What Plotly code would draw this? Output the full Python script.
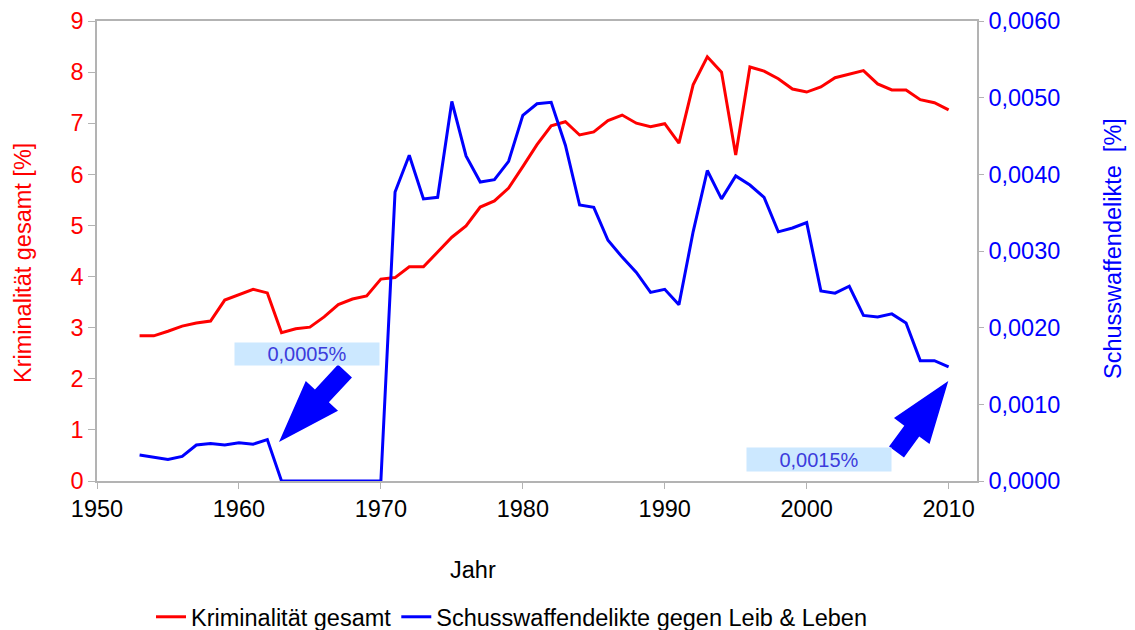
import math
import plotly.graph_objects as go

years = list(range(1953, 2011))
kriminalitaet = [2.84, 2.84, 2.93, 3.03, 3.09, 3.13, 3.54, 3.64, 3.75, 3.68,
                 2.90, 2.98, 3.01, 3.21, 3.45, 3.56, 3.62, 3.95, 3.98, 4.19,
                 4.19, 4.48, 4.77, 4.99, 5.36, 5.48, 5.73, 6.15, 6.58, 6.95,
                 7.03, 6.77, 6.83, 7.05, 7.16, 7.00, 6.93, 6.99, 6.61, 7.75,
                 8.30, 8.00, 6.38, 8.10, 8.02, 7.87, 7.67, 7.61, 7.71, 7.89,
                 7.96, 8.03, 7.77, 7.65, 7.65, 7.46, 7.40, 7.26]
schusswaffen = [0.00034, 0.00031, 0.00028, 0.00032, 0.00047, 0.00049, 0.00047, 0.00050, 0.00048, 0.00054,
                0.0, 0.0, 0.0, 0.0, 0.0, 0.0, 0.0, 0.0,
                0.00377, 0.00425, 0.00368, 0.00370, 0.00495, 0.00424, 0.00390, 0.00393, 0.00417, 0.00477,
                0.00492, 0.00494, 0.00438, 0.00360, 0.00357, 0.00314, 0.00292, 0.00272, 0.00246, 0.00250,
                0.00230, 0.00325, 0.00405, 0.00368, 0.00398, 0.00386, 0.00370, 0.00325, 0.00330, 0.00337,
                0.00248, 0.00245, 0.00254, 0.00216, 0.00214, 0.00218, 0.00206, 0.00157, 0.00157, 0.00149]

callout_texts = ["0,0005%", "0,0015%"]

W, H = 1135, 630
L, R, T, B = 97, 977, 21, 481
XMIN, XMAX = 1950, 2012
YMAX = 9


def to_data(px, py):
    return (XMIN + (px - L) / (R - L) * (XMAX - XMIN), (B - py) / (B - T) * YMAX)


def arrow_path(tail, tip, shaft_w, head_w, head_len):
    dx, dy = tip[0] - tail[0], tip[1] - tail[1]
    n = math.hypot(dx, dy)
    ux, uy = dx / n, dy / n
    px_, py_ = -uy, ux
    bx, by = tip[0] - ux * head_len, tip[1] - uy * head_len
    pts = [
        (tail[0] + px_ * shaft_w / 2, tail[1] + py_ * shaft_w / 2),
        (bx + px_ * shaft_w / 2, by + py_ * shaft_w / 2),
        (bx + px_ * head_w / 2, by + py_ * head_w / 2),
        tip,
        (bx - px_ * head_w / 2, by - py_ * head_w / 2),
        (bx - px_ * shaft_w / 2, by - py_ * shaft_w / 2),
        (tail[0] - px_ * shaft_w / 2, tail[1] - py_ * shaft_w / 2),
    ]
    d = [to_data(*p) for p in pts]
    return "M " + " L ".join(f"{x:.4f},{y:.4f}" for x, y in d) + " Z"


FONT = "Liberation Sans, Arial, sans-serif"
FS = 23.5

fig = go.Figure()
fig.add_trace(go.Scatter(x=years, y=kriminalitaet, mode="lines", name="Kriminalität gesamt",
                         line=dict(color="#ff0000", width=3), yaxis="y"))
fig.add_trace(go.Scatter(x=years, y=schusswaffen, mode="lines",
                         name="Schusswaffendelikte gegen Leib &amp; Leben",
                         line=dict(color="#0000ff", width=3), yaxis="y2"))

axis_gray = "#b3b3b3"
fig.update_layout(
    width=W, height=H,
    margin=dict(l=L, r=W - R, t=T, b=H - B, autoexpand=False),
    paper_bgcolor="white", plot_bgcolor="white",
    separators=",.",
    font=dict(family=FONT, size=FS, color="black"),
    showlegend=True,
    legend=dict(orientation="h", x=(512 - L) / (R - L), xanchor="center",
                y=(B - 617) / (B - T), yanchor="middle",
                font=dict(size=FS, color="black"), itemwidth=30,
                bgcolor="rgba(0,0,0,0)"),
    xaxis=dict(range=[XMIN, XMAX], tick0=1950, dtick=10, showgrid=False, zeroline=False,
               showline=True, linecolor=axis_gray, linewidth=1.5, mirror=True,
               ticks="outside", ticklen=6, tickcolor=axis_gray, automargin=False,
               tickfont=dict(size=FS, color="black")),
    yaxis=dict(range=[0, 9], dtick=1, showgrid=False, zeroline=False,
               showline=True, linecolor=axis_gray, linewidth=1.5,
               ticks="outside", ticklen=7, tickcolor=axis_gray, automargin=False,
               tickfont=dict(size=FS, color="#ff0000")),
    yaxis2=dict(range=[0, 0.006], dtick=0.001, tickformat=".4f", overlaying="y", side="right",
                showgrid=False, zeroline=False,
                showline=True, linecolor=axis_gray, linewidth=1.5,
                ticks="outside", ticklen=5, tickcolor=axis_gray, automargin=False,
                tickfont=dict(size=FS, color="#0000ff")),
)

# axis titles placed as in the original
fig.add_annotation(text="Kriminalität gesamt [%]", xref="paper", yref="paper",
                   x=(23 - L) / (R - L), y=(B - 263) / (B - T), textangle=-90,
                   xanchor="center", yanchor="middle", showarrow=False,
                   font=dict(size=FS, color="#ff0000"))
fig.add_annotation(text="Schusswaffendelikte\u00a0 [%]", xref="paper", yref="paper",
                   x=(1113 - L) / (R - L), y=(B - 249) / (B - T), textangle=-90,
                   xanchor="center", yanchor="middle", showarrow=False,
                   font=dict(size=FS, color="#0000ff"))
fig.add_annotation(text="Jahr", xref="paper", yref="paper",
                   x=(473 - L) / (R - L), y=(B - 570) / (B - T),
                   xanchor="center", yanchor="middle", showarrow=False,
                   font=dict(size=FS, color="black"))

# callout boxes
boxes = [((307, 354), 144, 22), ((819, 459), 144, 23)]
for txt, ((cx, cy), bw, bh) in zip(callout_texts, boxes):
    fig.add_annotation(text=txt, xref="paper", yref="paper",
                       x=(cx - L) / (R - L), y=(B - cy) / (B - T),
                       xanchor="center", yanchor="middle", showarrow=False,
                       width=bw, height=bh, bgcolor="#cce8ff", borderpad=0,
                       font=dict(size=20, color="#3c3cdc"))

# block arrows
fig.add_shape(type="path", xref="x", yref="y",
              path=arrow_path((345, 371), (279, 442), 19, 44, 63),
              fillcolor="#0000ff", line=dict(width=0))
fig.add_shape(type="path", xref="x", yref="y",
              path=arrow_path((896.5, 452), (948.3, 381), 18.5, 44, 62),
              fillcolor="#0000ff", line=dict(width=0))

fig.write_html("out.html", config={"displayModeBar": False},
               post_script="document.body.style.margin='0px';")
